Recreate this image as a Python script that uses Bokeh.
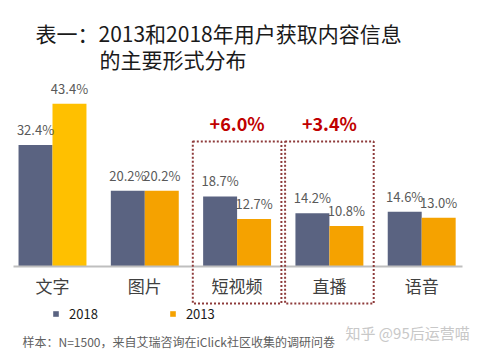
from bokeh.plotting import figure
from bokeh.models import Range1d, Legend, LegendItem, ColumnDataSource
from bokeh.transform import dodge
from bokeh.core.properties import value
from bokeh.embed import file_html
from bokeh.resources import INLINE

# ---- data ----
categories = ["文字", "图片", "短视频", "直播", "语音"]
values_2018 = [32.4, 20.2, 18.7, 14.2, 14.6]
values_2013 = [43.4, 20.2, 12.7, 10.8, 13.0]
series_names = ["2018", "2013"]
highlight_categories = ["短视频", "直播"]
growth_labels = ["+6.0%", "+3.4%"]
title_lines = ["表一：2013和2018年用户获取内容信息", "的主要形式分布"]
footnote = "样本：N=1500，来自艾瑞咨询在iClick社区收集的调研问卷"
watermark = "知乎 @95后运营喵"

# ---- layout / style ----
W, H = 477, 353
FONT = "Noto Sans CJK SC"
PX_PER_PCT = 3.75
BASE_PX = 266
CAT_SPACING = 92.3
FIRST_CAT_PX = 52
BAR_W = 0.368
C2018 = "#5A6381"
C2013 = "#F5A200"
C2013_FIRST = "#FFC000"
BOX_COLOR = "#8E3B3B"

xs = list(range(len(categories)))
x_start = -FIRST_CAT_PX / CAT_SPACING
x_end = x_start + W / CAT_SPACING
y_end = BASE_PX / PX_PER_PCT
y_start = y_end - H / PX_PER_PCT


def ypx(px):
    return y_end - px / PX_PER_PCT


def xpx(px):
    return x_start + px / CAT_SPACING


colors_2013 = [C2013_FIRST if i == 0 else C2013 for i in range(len(categories))]

src = ColumnDataSource(dict(
    x=xs, cat=categories,
    v18=values_2018, v13=values_2013,
    l18=[f"{v:.1f}%" for v in values_2018],
    l13=[f"{v:.1f}%" for v in values_2013],
    c13=colors_2013,
))

p = figure(width=W, height=H, x_range=Range1d(x_start, x_end), y_range=Range1d(y_start, y_end),
           x_axis_type=None, y_axis_type=None, output_backend="svg", toolbar_location=None,
           min_border=0, outline_line_color=None, background_fill_color="white",
           border_fill_color="white")
p.grid.visible = False

r18 = p.vbar(x=dodge("x", -BAR_W / 2, range=p.x_range), top="v18", bottom=0, width=BAR_W,
             fill_color=C2018, line_color=None, source=src)
r13 = p.vbar(x=dodge("x", BAR_W / 2, range=p.x_range), top="v13", bottom=0, width=BAR_W,
             fill_color="c13", line_color=None, source=src)

# value labels
for col, lab, off in (("v18", "l18", -BAR_W / 2), ("v13", "l13", BAR_W / 2)):
    p.text(x=dodge("x", off, range=p.x_range), y=col, text=lab, source=src,
           text_align="center", text_baseline="bottom", y_offset=-6,
           text_font=value(FONT), text_font_size="13px", text_color="#595959")

# axis line
p.segment(x0=[xpx(13)], y0=[0], x1=[xpx(462)], y1=[0], line_color="#BFBFBF", line_width=2)

# category labels
p.text(x="x", y=0, text="cat", source=src, y_offset=19, text_align="center",
       text_baseline="middle", text_font=value(FONT), text_font_size="17px",
       text_color="#404040")

# highlight boxes
hi = [categories.index(c) for c in highlight_categories]
p.quad(left=[i - 0.48 for i in hi], right=[i + 0.48 for i in hi],
       top=ypx(141), bottom=ypx(303), fill_color=None, line_color=BOX_COLOR,
       line_width=2, line_dash="2 2")
p.text(x=hi, y=ypx(122), text=growth_labels, text_align="center", text_baseline="middle",
       text_font=value(FONT), text_font_size="18px", text_font_style="bold",
       text_color="#C00000")

# title
p.text(x=[xpx(35)], y=[ypx(32)], text=[title_lines[0]], text_baseline="middle",
       text_font=value(FONT), text_font_size="21px", text_color="#1A1A1A")
p.text(x=[xpx(99)], y=[ypx(58)], text=[title_lines[1]], text_baseline="middle",
       text_font=value(FONT), text_font_size="21px", text_color="#1A1A1A")

# footnote & watermark
p.text(x=[xpx(22)], y=[ypx(341)], text=[footnote], text_baseline="middle",
       text_font=value(FONT), text_font_size="12px", text_color="#606060")
p.text(x=[xpx(345)], y=[ypx(332)], text=[watermark], text_baseline="middle",
       text_font=value(FONT), text_font_size="15px", text_color="#C8C8C8")

legend = Legend(items=[LegendItem(label=series_names[0], renderers=[r18]),
                       LegendItem(label=series_names[1], renderers=[r13], index=1)],
                orientation="horizontal", location=(52, 30), glyph_width=7, glyph_height=7,
                label_text_font=FONT, label_text_font_size="13px", label_text_color="#1A1A1A",
                label_standoff=10, spacing=71, padding=0, margin=0, label_height=14,
                border_line_color=None, background_fill_alpha=0)
p.add_layout(legend)

open("out.html", "w").write(file_html(p, INLINE))
